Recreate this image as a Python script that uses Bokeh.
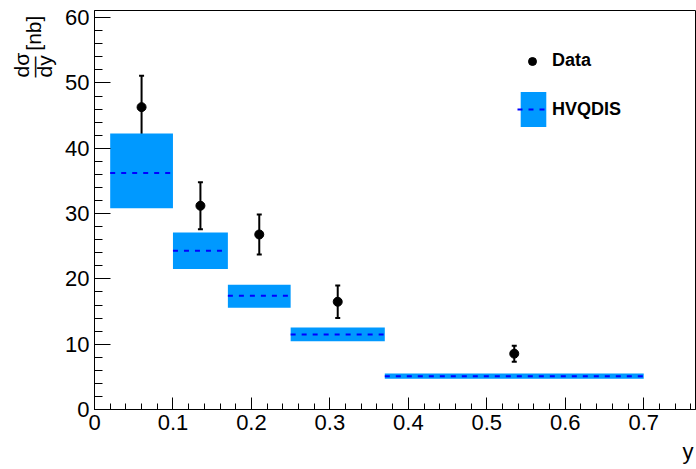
import numpy as np
from bokeh.plotting import figure
from bokeh.models import (ColumnDataSource, Whisker, TeeHead, Legend, LegendItem,
                          Title, FixedTicker, Range1d)
from bokeh.embed import file_html
from bokeh.resources import INLINE

# ---- data ----
bin_low_edges = [0.02, 0.10, 0.17, 0.25, 0.37]
bin_high_edges = [0.10, 0.17, 0.25, 0.37, 0.70]
hvqdis_central = [36.2, 24.3, 17.4, 11.5, 5.1]
hvqdis_low = [30.8, 21.5, 15.6, 10.45, 4.7]
hvqdis_high = [42.25, 27.1, 19.1, 12.55, 5.5]

data_x = [0.06, 0.135, 0.21, 0.31, 0.535]
data_y = [46.3, 31.2, 26.8, 16.5, 8.55]
data_err = [4.8, 3.6, 3.05, 2.5, 1.23]

x_ticks = [0, 0.1, 0.2, 0.3, 0.4, 0.5, 0.6, 0.7]
y_ticks = [0, 10, 20, 30, 40, 50, 60]

FONT = "Liberation Sans"

p = figure(width=696, height=469, output_backend="svg", toolbar_location=None,
           x_range=Range1d(0, 0.766), y_range=Range1d(0, 61.1),
           min_border_left=94, min_border_right=1, min_border_top=10, min_border_bottom=60)
p.background_fill_color = "white"
p.border_fill_color = "white"
p.outline_line_color = "black"
p.outline_line_width = 1
p.xgrid.visible = False
p.ygrid.visible = False

# theory boxes
box_src = ColumnDataSource(dict(left=bin_low_edges, right=bin_high_edges,
                                bottom=hvqdis_low, top=hvqdis_high, c=hvqdis_central))
q = p.quad(left="left", right="right", bottom="bottom", top="top", source=box_src,
           fill_color="#0099ff", line_color=None)
s = p.segment(x0="left", x1="right", y0="c", y1="c", source=box_src,
              line_color="#0000ff", line_width=2, line_dash="5 6")

# data points
d_src = ColumnDataSource(dict(x=data_x, y=data_y,
                              lo=[y - e for y, e in zip(data_y, data_err)],
                              hi=[y + e for y, e in zip(data_y, data_err)]))
w = Whisker(source=d_src, base="x", lower="lo", upper="hi", line_color="black", line_width=2,
            lower_head=TeeHead(size=5, line_width=2, line_color="black"),
            upper_head=TeeHead(size=5, line_width=2, line_color="black"))
p.add_layout(w)
dots = p.scatter("x", "y", source=d_src, size=9, color="black")

# axes
for ax in (p.xaxis[0], p.yaxis[0]):
    ax.axis_line_color = "black"
    ax.major_tick_line_color = "black"
    ax.minor_tick_line_color = "black"
    ax.major_tick_out = 0
    ax.minor_tick_out = 0
    ax.major_label_text_font = FONT
    ax.major_label_text_font_size = "22px"
    ax.major_label_text_color = "black"
    ax.axis_label = None

p.xaxis.ticker = FixedTicker(ticks=x_ticks, minor_ticks=list(np.round(np.arange(0, 0.77, 0.02), 2)))
p.xaxis.major_label_overrides = {0: "0"}
p.xaxis.major_tick_in = 12
p.xaxis.minor_tick_in = 6
p.xaxis.major_label_standoff = 5

p.yaxis.ticker = FixedTicker(ticks=y_ticks, minor_ticks=list(range(0, 62, 2)))
p.yaxis.major_tick_in = 16
p.yaxis.minor_tick_in = 8
p.yaxis.major_label_standoff = 5

# axis titles (as side-panel titles so they are not clipped)
ylab = Title(text="dσ\n—  [nb]\ndy", align="left", offset=332,
             text_font=FONT, text_font_size="21px", text_font_style="normal",
             text_color="black", text_line_height=0.5, standoff=13)
p.add_layout(ylab, "left")
xlab = Title(text="y", align="right", offset=2,
             text_font=FONT, text_font_size="22px", text_font_style="normal",
             text_color="black", standoff=8)
p.add_layout(xlab, "below")

# legends
leg_kw = dict(orientation="vertical", padding=0, margin=0, spacing=0,
              label_text_font=FONT, label_text_font_size="18px",
              label_text_font_style="bold", label_text_color="black",
              border_line_alpha=0, background_fill_alpha=0)
leg_data = Legend(items=[LegendItem(label="Data", renderers=[dots])],
                  location=(428, 338), glyph_width=20, glyph_height=20, label_height=20,
                  label_standoff=10, **leg_kw)
leg_th = Legend(items=[LegendItem(label="HVQDIS", renderers=[q, s])],
                location=(423, 278), glyph_width=32, glyph_height=44, label_height=44,
                label_standoff=3, **leg_kw)
p.add_layout(leg_data)
p.add_layout(leg_th)

open("out.html", "w").write(file_html(p, INLINE))
